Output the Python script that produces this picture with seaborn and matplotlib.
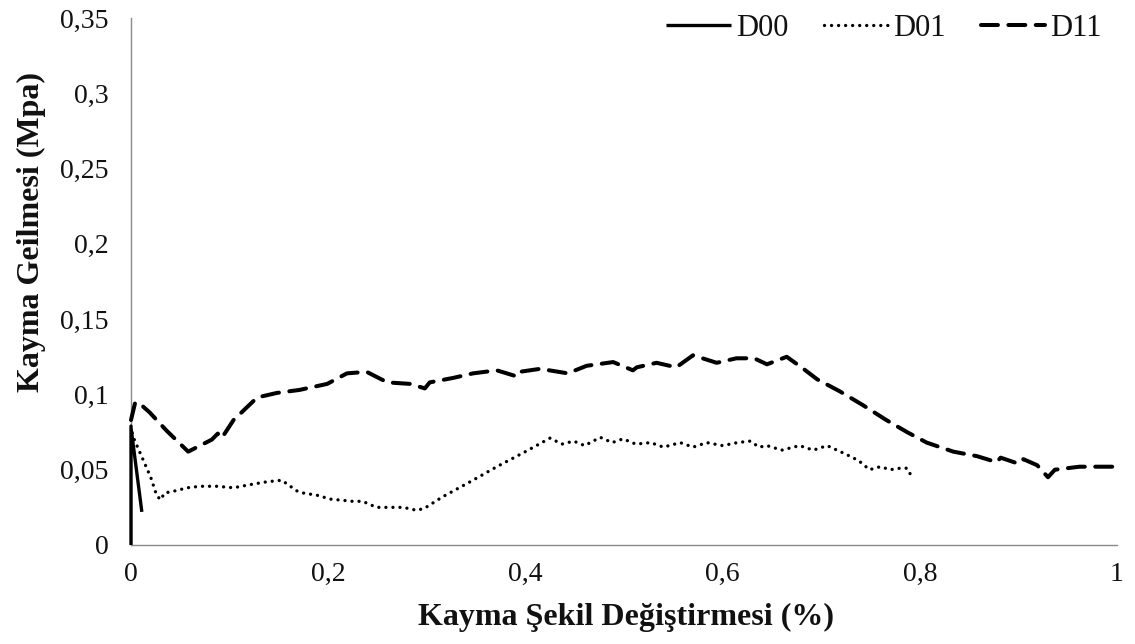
import numpy as np
import pandas as pd
import matplotlib
matplotlib.use("Agg")
import matplotlib.pyplot as plt
import seaborn as sns

# Shear stress (MPa) versus shear strain (%) for three specimens
d00_x = [0.0, 0.0, 0.011]
d00_y = [0.0, 0.078, 0.022]

d01_x = [0.0, 0.002, 0.010, 0.020, 0.026, 0.030, 0.034, 0.045, 0.057, 0.070, 0.087,
         0.104, 0.120, 0.138, 0.153, 0.168, 0.175, 0.189, 0.202, 0.225, 0.235,
         0.249, 0.276, 0.290, 0.298, 0.316, 0.344, 0.371, 0.400, 0.425, 0.437,
         0.449, 0.460, 0.476, 0.488, 0.499, 0.512, 0.527, 0.540, 0.557, 0.570,
         0.584, 0.600, 0.615, 0.628, 0.637, 0.645, 0.660, 0.678, 0.692, 0.706,
         0.716, 0.726, 0.738, 0.749, 0.760, 0.770, 0.780, 0.787, 0.793]
d01_y = [0.079, 0.072, 0.060, 0.045, 0.033, 0.030, 0.0345, 0.036, 0.038, 0.039, 0.039,
         0.038, 0.040, 0.042, 0.043, 0.036, 0.0345, 0.033, 0.0305, 0.029, 0.029,
         0.025, 0.025, 0.023, 0.0245, 0.032, 0.042, 0.052, 0.062, 0.071, 0.067,
         0.069, 0.066, 0.0715, 0.068, 0.0705, 0.067, 0.068, 0.065, 0.068, 0.065,
         0.068, 0.066, 0.068, 0.069, 0.065, 0.066, 0.063, 0.066, 0.063, 0.066,
         0.063, 0.060, 0.056, 0.050, 0.052, 0.050, 0.051, 0.051, 0.044]

d11_x = [0.0, 0.004, 0.007, 0.019, 0.036, 0.058, 0.070, 0.082, 0.088, 0.092,
         0.104, 0.128, 0.148, 0.171, 0.199, 0.219, 0.239, 0.260, 0.283, 0.298,
         0.303, 0.327, 0.347, 0.371, 0.391, 0.394, 0.415, 0.443, 0.462, 0.489,
         0.509, 0.513, 0.533, 0.553, 0.570, 0.594, 0.614, 0.632, 0.645, 0.665,
         0.680, 0.696, 0.719, 0.742, 0.766, 0.787, 0.807, 0.834, 0.858, 0.878,
         0.882, 0.900, 0.905, 0.919, 0.930, 0.937, 0.962, 1.0]
d11_y = [0.083, 0.094, 0.095, 0.088, 0.076, 0.062, 0.066, 0.070, 0.074, 0.071,
         0.083, 0.098, 0.101, 0.103, 0.107, 0.114, 0.115, 0.108, 0.107, 0.104,
         0.108, 0.111, 0.114, 0.116, 0.112, 0.115, 0.117, 0.114, 0.119, 0.1215,
         0.116, 0.118, 0.121, 0.118, 0.126, 0.121, 0.124, 0.124, 0.120, 0.125,
         0.118, 0.110, 0.102, 0.093, 0.083, 0.075, 0.068, 0.062, 0.059, 0.055,
         0.058, 0.054, 0.057, 0.053, 0.045, 0.050, 0.052, 0.052]

x_ticks = [0, 0.2, 0.4, 0.6, 0.8, 1.0]
x_tick_labels = ["0", "0,2", "0,4", "0,6", "0,8", "1"]
y_ticks = [0, 0.05, 0.10, 0.15, 0.20, 0.25, 0.30, 0.35]
y_tick_labels = ["0", "0,05", "0,1", "0,15", "0,2", "0,25", "0,3", "0,35"]

sns.set_theme(style="white")
plt.rcParams["font.family"] = ["Liberation Serif", "DejaVu Serif"]

fig = plt.figure(figsize=(11.35, 6.44), dpi=100)
ax = fig.add_axes([131 / 1135, 1 - 545 / 644, (1117 - 131) / 1135, (545 - 18) / 644])

common = dict(ax=ax, color="black", estimator=None, sort=False, clip_on=False, zorder=3)
sns.lineplot(x=d00_x, y=d00_y, label="D00", lw=2.4, linestyle="-",
             solid_capstyle="butt", **common)
sns.lineplot(x=d01_x, y=d01_y, label="D01", lw=2.4, linestyle=(0, (0.01, 2.1)),
             dash_capstyle="round", **common)
sns.lineplot(x=d11_x, y=d11_y, label="D11", lw=2.9, linestyle=(0, (4.2, 2.6)),
             dash_capstyle="round", **common)

ax.set_xlim(0, 1)
ax.set_ylim(0, 0.35)
ax.set_xticks(x_ticks)
ax.set_xticklabels(x_tick_labels)
ax.set_yticks(y_ticks)
ax.set_yticklabels(y_tick_labels)
ax.tick_params(axis="both", length=0, labelsize=20, colors="#111111")
ax.tick_params(axis="y", pad=16)
ax.tick_params(axis="x", pad=12)
ax.grid(False)

for side in ("top", "right"):
    ax.spines[side].set_visible(False)
for side in ("left", "bottom"):
    ax.spines[side].set_color("#8a8a8a")
    ax.spines[side].set_linewidth(1.0)

ax.set_xlabel("Kayma Şekil Değiştirmesi (%)", fontsize=23, fontweight="bold",
              color="#111111")
ax.set_ylabel("Kayma Geilmesi (Mpa)", fontsize=23, fontweight="bold",
              color="#111111")
ax.xaxis.set_label_coords(0.502, -(617 - 545) / 527)
ax.yaxis.set_label_coords(-(131 - 31) / 986, (545 - 232) / 527)
ax.xaxis.label.set_va("center")
ax.yaxis.label.set_va("center")

leg = ax.legend(loc="center right", bbox_to_anchor=(1102 / 1135, 1 - 28 / 644),
                bbox_transform=fig.transFigure, ncol=3, frameon=False,
                fontsize=22, handlelength=2.1, handletextpad=0.18,
                columnspacing=1.15, borderaxespad=0, borderpad=0)
for t in leg.get_texts():
    t.set_color("#111111")

fig.savefig("out.png", dpi=100, facecolor="white")
